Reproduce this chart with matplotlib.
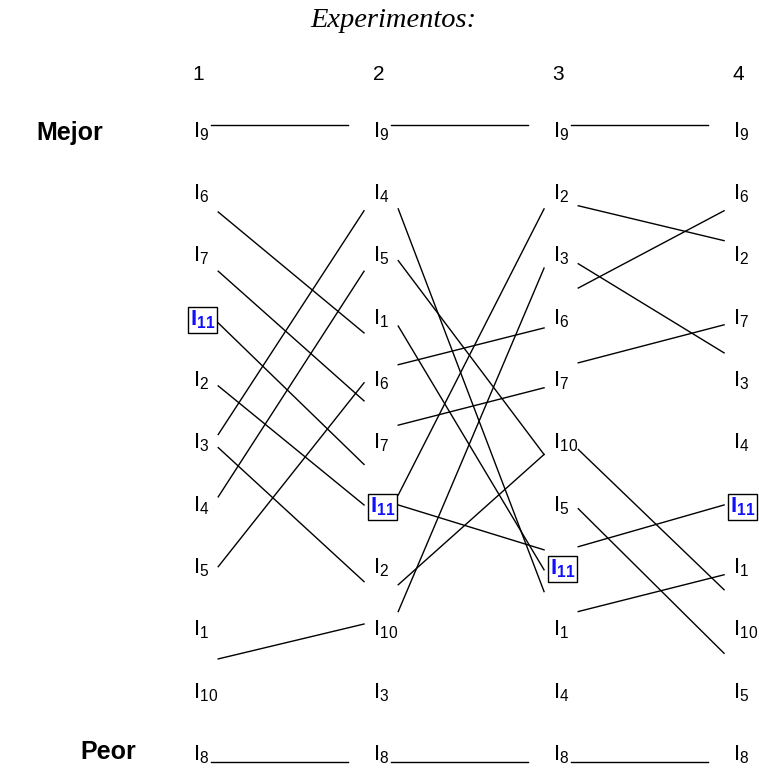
import matplotlib
matplotlib.use('Agg')
import matplotlib.pyplot as plt

plt.rcParams['font.family'] = ['Liberation Sans', 'DejaVu Sans']
plt.rcParams['mathtext.fontset'] = 'custom'
plt.rcParams['mathtext.rm'] = 'Liberation Sans'
plt.rcParams['mathtext.bf'] = 'Liberation Sans:bold'
plt.rcParams['mathtext.it'] = 'Liberation Sans:italic'

########### Data ###########

experiments = [1, 2, 3, 4]

# ranking of items per experiment, best (top) to worst (bottom)
rank_exp1 = [9, 6, 7, 11, 2, 3, 4, 5, 1, 10, 8]
rank_exp2 = [9, 4, 5, 1, 6, 7, 11, 2, 10, 3, 8]
rank_exp3 = [9, 2, 3, 6, 7, 10, 5, 11, 1, 4, 8]
rank_exp4 = [9, 6, 2, 7, 3, 4, 11, 1, 10, 5, 8]
rankings = [rank_exp1, rank_exp2, rank_exp3, rank_exp4]

highlight = 11

# connecting lines (rank position at left column, rank position at right column)
links_12 = [(-0.12, -0.12), (1.28, 3.22), (2.23, 4.31), (3.06, 5.33), (4.07, 5.98),
            (5.06, 7.21), (4.85, 1.26), (5.85, 2.23), (6.97, 4.02), (8.45, 7.89),
            (10.1, 10.1)]
links_23 = [(-0.12, -0.12), (1.23, 7.37), (2.06, 5.17), (3.11, 7.02), (3.73, 3.14),
            (4.70, 4.10), (5.82, 1.23), (5.98, 6.70), (7.26, 5.17), (7.69, 2.18),
            (10.1, 10.1)]
links_34 = [(-0.12, -0.12), (1.18, 1.74), (2.11, 3.54), (2.50, 1.26), (3.70, 3.09),
            (5.09, 7.34), (6.04, 8.36), (6.65, 5.98), (7.69, 7.10), (10.1, 10.1)]
links = [links_12, links_23, links_34]

########### Plot ###########

fig = plt.figure(figsize=(7.59, 7.68), dpi=100)
ax = fig.add_axes([0, 0, 1, 1])
ax.set_xlim(-0.0722, 4.144)
ax.set_ylim(10.2, -2.121)
ax.axis('off')

ax.text(2.111, -1.80, 'Experimentos:', family='Liberation Serif', style='italic',
        fontsize=20.5, ha='center', va='center')

for e in experiments:
    ax.text(e + 0.03, -0.93, str(e), fontsize=15, ha='center', va='center')

ax.text(0.317, 0.02, 'Mejor', fontsize=18, fontweight='bold', ha='center', va='center')
ax.text(0.528, 9.95, 'Peor', fontsize=18, fontweight='bold', ha='center', va='center')

for e, ranking in zip(experiments, rankings):
    for r, item in enumerate(ranking):
        if item == highlight:
            ax.text(e - 0.017, r + 0.1, r'$\mathbf{I_{%d}}$' % item, fontsize=16,
                    color='#1010ff', ha='left', va='baseline',
                    bbox=dict(boxstyle='square,pad=0.08', fc='white', ec='black', lw=1))
        else:
            ax.text(e, r + 0.08, r'$\mathrm{I}_{\mathrm{%d}}$' % item, fontsize=16,
                    ha='left', va='baseline')

for e, pairs in zip(experiments[:-1], links):
    for r0, r1 in pairs:
        if r0 == r1:
            x0, x1 = e + 0.1, e + 0.86
        else:
            x0, x1 = e + 0.14, e + 0.95
        ax.plot([x0, x1], [r0, r1], color='black', lw=1)

fig.savefig('out.png', dpi=100)
